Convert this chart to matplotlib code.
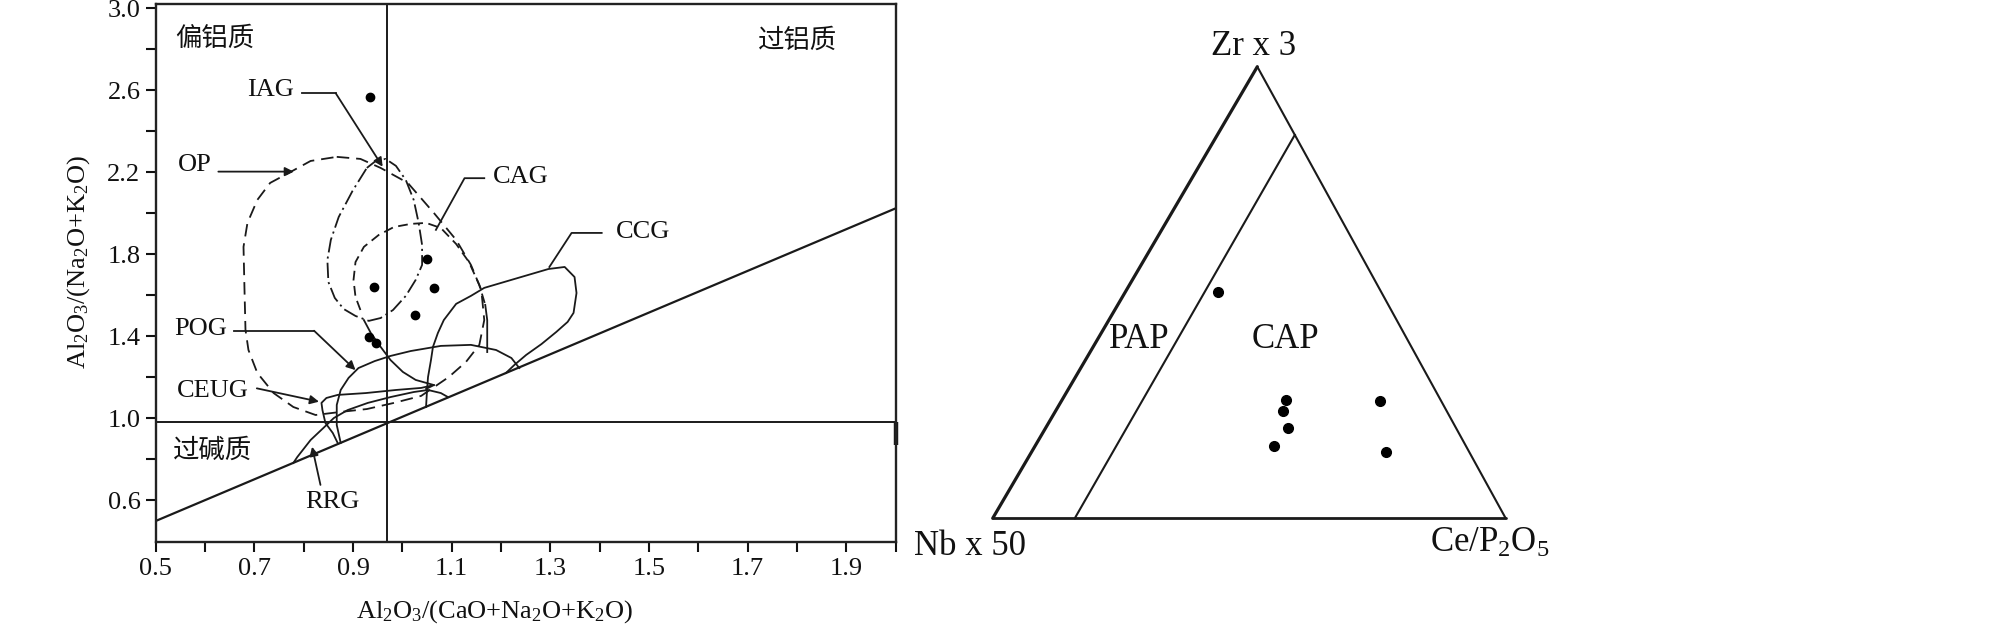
import matplotlib
matplotlib.use('Agg')
import matplotlib.pyplot as plt

plt.rcParams['font.family'] = ['Liberation Serif', 'Noto Sans CJK SC', 'DejaVu Sans']
plt.rcParams['mathtext.fontset'] = 'custom'
plt.rcParams['mathtext.rm'] = 'Liberation Serif'
plt.rcParams['mathtext.it'] = 'Liberation Serif:italic'
plt.rcParams['mathtext.bf'] = 'Liberation Serif:bold'
plt.rcParams['lines.scale_dashes'] = False

# ---------------- Left diagram: A/CNK vs A/NK ----------------
acnk = [0.934, 1.049, 0.943, 1.065, 1.026, 0.932, 0.946]
ank = [2.570, 1.778, 1.640, 1.635, 1.505, 1.399, 1.367]

x_ticks = [0.5, 0.6, 0.7, 0.8, 0.9, 1.0, 1.1, 1.2, 1.3, 1.4, 1.5, 1.6, 1.7, 1.8, 1.9, 2.0]
x_ticklabels = ['0.5', '', '0.7', '', '0.9', '', '1.1', '', '1.3', '', '1.5', '', '1.7', '', '1.9', '']
y_ticks = [0.6, 0.8, 1.0, 1.2, 1.4, 1.6, 1.8, 2.0, 2.2, 2.4, 2.6, 2.8, 3.0]
y_ticklabels = ['0.6', '', '1.0', '', '1.4', '', '1.8', '', '2.2', '', '2.6', '', '3.0']

# boundary lines
div_acnk = 0.968
div_ank = 0.984
diag_x = [0.5, 2.0]
diag_y = [0.5, 2.025]

# field outlines (x = A/CNK, y = A/NK)
op_x = [0.867, 0.915, 0.956, 1.011, 1.064, 1.109, 1.139, 1.160, 1.166, 1.156, 1.129, 1.094,
        1.038, 0.983, 0.928, 0.875, 0.824, 0.779, 0.739, 0.706, 0.688, 0.682, 0.680, 0.678,
        0.686, 0.706, 0.732, 0.773, 0.814, 0.867]
op_y = [2.276, 2.266, 2.222, 2.149, 2.002, 1.871, 1.749, 1.627, 1.480, 1.359, 1.276, 1.202,
        1.110, 1.076, 1.046, 1.032, 1.017, 1.056, 1.124, 1.222, 1.334, 1.432, 1.627, 1.837,
        1.954, 2.066, 2.149, 2.202, 2.256, 2.276]

iag_x = [0.928, 0.946, 0.966, 0.987, 1.007, 1.023, 1.033, 1.040, 1.040, 1.027, 1.007, 0.981,
         0.956, 0.932, 0.905, 0.881, 0.863, 0.850, 0.848, 0.855, 0.871, 0.899, 0.928]
iag_y = [2.222, 2.256, 2.266, 2.232, 2.163, 2.066, 1.954, 1.846, 1.749, 1.676, 1.598, 1.529,
         1.490, 1.476, 1.500, 1.534, 1.588, 1.666, 1.773, 1.871, 1.983, 2.110, 2.222]

cag_x = [0.915, 0.905, 0.901, 0.905, 0.922, 0.952, 0.983, 1.017, 1.048, 1.078, 1.109, 1.135,
         1.156, 1.168]
cag_y = [1.529, 1.593, 1.676, 1.763, 1.837, 1.895, 1.934, 1.949, 1.954, 1.929, 1.851, 1.763,
         1.651, 1.554]
cag_right_x = [1.168, 1.172, 1.172]
cag_right_y = [1.554, 1.480, 1.324]
cag_low_x = [0.922, 0.936, 0.956, 0.976, 1.001, 1.027, 1.064]
cag_low_y = [1.480, 1.417, 1.349, 1.285, 1.227, 1.188, 1.163]

ccg_x = [1.048, 1.050, 1.052, 1.058, 1.062, 1.072, 1.084, 1.109, 1.139, 1.166, 1.221, 1.296,
         1.329, 1.349, 1.353, 1.347, 1.335, 1.312, 1.282, 1.251, 1.227, 1.210]
ccg_y = [1.056, 1.139, 1.202, 1.285, 1.349, 1.417, 1.480, 1.559, 1.598, 1.637, 1.676, 1.729,
         1.739, 1.690, 1.612, 1.515, 1.471, 1.422, 1.363, 1.310, 1.261, 1.222]

pog_x = [0.875, 0.867, 0.867, 0.875, 0.891, 0.911, 0.944, 0.976, 1.017, 1.078, 1.139, 1.190,
         1.221, 1.237]
pog_y = [0.881, 0.968, 1.066, 1.139, 1.198, 1.246, 1.280, 1.305, 1.329, 1.354, 1.359, 1.334,
         1.295, 1.246]

rrg_x = [0.779, 0.787, 0.814, 0.840, 0.861, 0.889, 0.930, 0.977, 1.023, 1.052, 1.078, 1.092]
rrg_y = [0.783, 0.812, 0.895, 0.954, 1.002, 1.041, 1.076, 1.105, 1.129, 1.139, 1.124, 1.105]

ceug_x = [0.869, 0.859, 0.844, 0.838, 0.836, 0.846, 0.869, 0.926, 0.987, 1.038, 1.064, 1.048]
ceug_y = [0.880, 0.929, 0.978, 1.041, 1.076, 1.100, 1.115, 1.124, 1.139, 1.149, 1.163, 1.144]

# field labels and leader lines
field_names = ['IAG', 'OP', 'CAG', 'CCG', 'POG', 'CEUG', 'RRG']
field_label_x = [0.733, 0.580, 1.239, 1.487, 0.592, 0.616, 0.858]
field_label_y = [2.602, 2.237, 2.180, 1.910, 1.435, 1.136, 0.594]
leader_x = [[0.797, 0.865, 0.960], [0.627, 0.780], [1.166, 1.126, 1.068], [1.404, 1.343, 1.298],
            [0.658, 0.821, 0.905], [0.705, 0.831], [0.834, 0.817]]
leader_y = [[2.586, 2.586, 2.228], [2.204, 2.204], [2.172, 2.172, 1.920], [1.905, 1.905, 1.739],
            [1.428, 1.428, 1.236], [1.147, 1.082], [0.676, 0.862]]
leader_arrow = [True, True, False, False, True, True, True]

region_names = ['偏铝质', '过铝质', '过碱质']
region_x = [0.619, 1.802, 0.615]
region_y = [2.856, 2.846, 0.846]

# ---------------- Right diagram: Zr*3 - Nb*50 - Ce/P2O5 ----------------
zr = [0.500, 0.262, 0.238, 0.199, 0.159, 0.260, 0.146]
nb = [0.319, 0.302, 0.319, 0.328, 0.375, 0.120, 0.163]
ce = [0.181, 0.436, 0.443, 0.473, 0.466, 0.620, 0.691]
pap_cap_zr = [0.849, 0.0]
pap_cap_nb = [0.0, 0.84]
pap_cap_ce = [0.151, 0.16]

TOP_X = 0.5158  # horizontal position of the Zr apex within the triangle frame


def tern(a, b, c):
    xs, ys = [], []
    for ai, bi, ci in zip(a, b, c):
        s = ai + bi + ci
        ai, bi, ci = ai / s, bi / s, ci / s
        xs.append(ci * 1.0 + ai * TOP_X)
        ys.append(ai)
    return xs, ys


W, H = 2008, 633
fig = plt.figure(figsize=(W / 100, H / 100), dpi=100)


def fx(px):
    return px / W


def fy(py):
    return 1 - py / H


ax = fig.add_axes([fx(155.7), fy(541.7), (895.7 - 155.7) / W, (541.7 - 3.5) / H])
ax.set_xlim(0.5, 2.0)
ax.set_ylim(0.399, 3.024)
for s in ax.spines.values():
    s.set_linewidth(1.7)
    s.set_color('#222222')
ax.set_xticks(x_ticks)
ax.set_xticklabels(x_ticklabels)
ax.set_yticks(y_ticks)
ax.set_yticklabels(y_ticklabels)
ax.tick_params(axis='both', direction='out', length=7, width=1.5, labelsize=19, colors='#111111')
ax.tick_params(axis='x', pad=5)
ax.tick_params(axis='y', pad=4)

lc = '#1a1a1a'
ax.axvline(div_acnk, color=lc, lw=1.4)
ax.axhline(div_ank, color=lc, lw=1.4)
ax.plot(diag_x, diag_y, color=lc, lw=1.6)
ax.plot([2.0, 2.0], [0.87, 0.985], color=lc, lw=3.2, solid_capstyle='butt', clip_on=False)

kw = dict(color=lc, lw=1.3, solid_joinstyle='round', dash_joinstyle='round')
ax.plot(op_x, op_y, linestyle=(0, (9, 5)), **kw)
ax.plot(iag_x, iag_y, linestyle=(0, (11, 3, 1.5, 3)), **kw)
ax.plot(cag_x, cag_y, linestyle=(0, (7, 4)), **kw)
ax.plot(cag_right_x, cag_right_y, **kw)
ax.plot(cag_low_x, cag_low_y, **kw)
ax.plot(ccg_x, ccg_y, **kw)
ax.plot(pog_x, pog_y, **kw)
ax.plot(rrg_x, rrg_y, **kw)
ax.plot(ceug_x, ceug_y, **kw)

for name, tx, ty, lx, ly, arr in zip(field_names, field_label_x, field_label_y,
                                      leader_x, leader_y, leader_arrow):
    ax.text(tx, ty, name, fontsize=19, ha='center', va='center', color='#111111')
    if arr:
        ax.plot(lx[:-1], ly[:-1], color=lc, lw=1.3)
        ax.annotate('', xy=(lx[-1], ly[-1]), xytext=(lx[-2], ly[-2]),
                    arrowprops=dict(arrowstyle='-|>', mutation_scale=13, lw=1.3,
                                    color=lc, shrinkA=0, shrinkB=0))
    else:
        ax.plot(lx, ly, color=lc, lw=1.3)

for name, rx, ry in zip(region_names, region_x, region_y):
    ax.text(rx, ry, name, fontsize=19, ha='center', va='center',
            family=['Noto Sans CJK SC'], color='#111111')

ax.plot(acnk, ank, 'o', color='black', markersize=6, zorder=5)

fig.text(fx(495), fy(612), r'Al$_2$O$_3$/(CaO+Na$_2$O+K$_2$O)', fontsize=19,
         ha='center', va='center', color='#111111')
fig.text(fx(79), fy(262), r'Al$_2$O$_3$/(Na$_2$O+K$_2$O)', fontsize=19, rotation=90,
         ha='center', va='center', color='#111111')

# ---------------- ternary ----------------
tax = fig.add_axes([fx(992.7), fy(518.3), 513 / W, 451.6 / H])
tax.set_xlim(0, 1)
tax.set_ylim(0, 1)
tax.axis('off')

vx, vy = tern([0, 1, 0], [1, 0, 0], [0, 0, 1])  # Nb apex, Zr apex, Ce apex
tax.plot([vx[0], vx[1]], [vy[0], vy[1]], color=lc, lw=2.3, solid_capstyle='round', clip_on=False)
tax.plot([vx[1], vx[2]], [vy[1], vy[2]], color=lc, lw=1.5, solid_capstyle='round', clip_on=False)
tax.plot([vx[2], vx[0]], [vy[2], vy[0]], color=lc, lw=2.0, solid_capstyle='round', clip_on=False)

dx, dy = tern(pap_cap_zr, pap_cap_nb, pap_cap_ce)
tax.plot(dx, dy, color=lc, lw=1.5, clip_on=False)

px, py = tern(zr, nb, ce)
tax.plot(px, py, 'o', color='black', markersize=7, clip_on=False, zorder=5)

tfs = 25
fig.text(fx(1254), fy(46.7), 'Zr x 3', fontsize=tfs, ha='center', va='center', color='#111111')
fig.text(fx(970.5), fy(546.7), 'Nb x 50', fontsize=tfs, ha='center', va='center', color='#111111')
fig.text(fx(1489.7), fy(543.3), r'Ce/P$_2$O$_5$', fontsize=tfs, ha='center', va='center', color='#111111')
fig.text(fx(1139.2), fy(340), 'PAP', fontsize=tfs, ha='center', va='center', color='#111111')
fig.text(fx(1285), fy(340), 'CAP', fontsize=tfs, ha='center', va='center', color='#111111')

fig.savefig('out.png', dpi=100, facecolor='white')
